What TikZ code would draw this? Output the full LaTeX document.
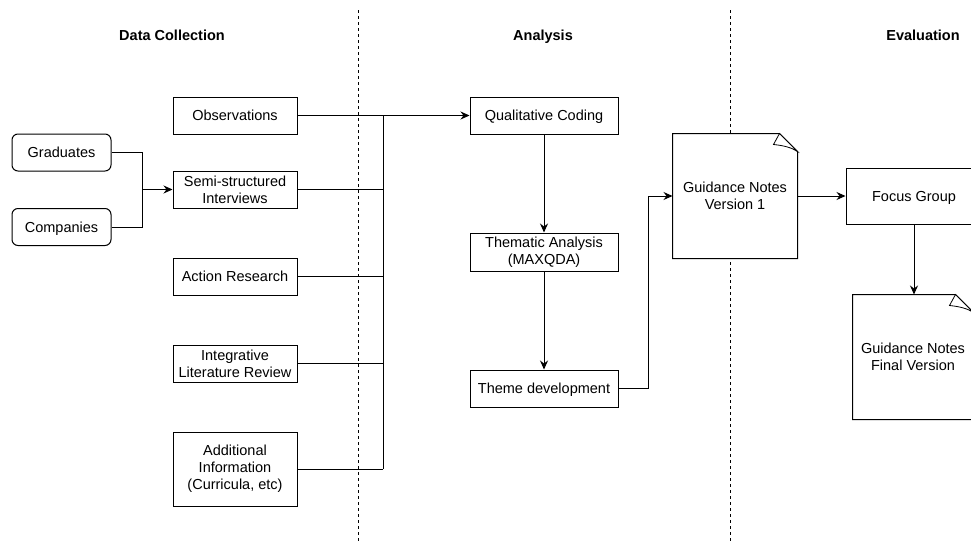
\documentclass[tikz,border=0pt]{standalone}
\usepackage{fontspec}
\setmainfont{Liberation Sans}
\usetikzlibrary{arrows.meta}
\begin{document}
\begin{tikzpicture}[x=1pt,y=-1pt,
  font=\fontsize{14.5}{17}\selectfont,
  line width=1pt,
  box/.style={draw, fill=white, rectangle, inner sep=0pt, align=center},
  sl/.style={text height=11.5pt, text depth=1.5pt},
  doc/.style={rectangle, inner sep=0pt, align=center},
  doctext/.style={inner sep=0pt, align=center},
  rbox/.style={box, rounded corners=6pt},
  title/.style={font=\fontsize{14.5}{17}\selectfont\bfseries, anchor=base},
  sep/.style={line width=0.9pt, dash pattern=on 3pt off 3pt},
  arr/.style={-{Stealth[length=9pt,width=8pt,inset=3pt]}}]
\useasboundingbox (0,0) rectangle (971,541);
\clip (0,0) rectangle (971,541);

% separators
\draw[sep] (358,10) -- (358,541);
\draw[sep] (730,10) -- (730,541);

% titles
\node[title] (t1) at (172,40) {Data Collection};
\node[title] (t2) at (543,40) {Analysis};
\node[title] (t3) at (923,40) {Evaluation};

% data collection
\node[rbox, sl, minimum width=99, minimum height=37] (grad) at (61.5,152.5) {Graduates};
\node[rbox, sl, minimum width=99, minimum height=37] (comp) at (61.5,227) {Companies};
\node[box, sl, minimum width=124, minimum height=37] (obs) at (235,115.5) {Observations};
\node[box, minimum width=124, minimum height=37] (semi) at (235,189.5) {Semi-structured\\Interviews};
\node[box, sl, minimum width=124, minimum height=37] (act) at (235,276.5) {Action Research};
\node[box, minimum width=124, minimum height=37] (integ) at (235,363.5) {Integrative\\Literature Review};
\node[box, minimum width=124, minimum height=74] (add) at (235,469) {Additional\\Information\\(Curricula, etc)};

% analysis
\node[box, sl, minimum width=148, minimum height=37] (qc) at (544,115.5) {Qualitative Coding};
\node[box, minimum width=148, minimum height=38] (them) at (544,252) {Thematic Analysis\\(MAXQDA)};
\node[box, sl, minimum width=148, minimum height=37] (theme) at (544,388.5) {Theme development};

% evaluation
\node[doc, minimum width=124, minimum height=124] (gn1) at (735,196) {};
\draw[fill=white] (gn1.north west) -- ([xshift=-18pt]gn1.north east) -- ([yshift=-18pt]gn1.north east)
  -- (gn1.south east) -- (gn1.south west) -- cycle;
\draw[fill=white, line width=0.8pt] ([xshift=-18pt]gn1.north east) -- ([xshift=-24pt,yshift=-11pt]gn1.north east)
  .. controls ([xshift=-14pt,yshift=-12pt]gn1.north east) and ([xshift=-6pt,yshift=-14pt]gn1.north east) .. ([yshift=-18pt]gn1.north east) -- cycle;
\node[doctext] (gn1t) at (gn1.center) {Guidance Notes\\Version 1};

\node[box, sl, minimum width=136, minimum height=56] (fg) at (914,196) {Focus Group};

\node[doc, minimum width=120, minimum height=124] (gnf) at (913,357) {};
\draw[fill=white] (gnf.north west) -- ([xshift=-18pt]gnf.north east) -- ([yshift=-18pt]gnf.north east)
  -- (gnf.south east) -- (gnf.south west) -- cycle;
\draw[fill=white, line width=0.8pt] ([xshift=-18pt]gnf.north east) -- ([xshift=-24pt,yshift=-11pt]gnf.north east)
  .. controls ([xshift=-14pt,yshift=-12pt]gnf.north east) and ([xshift=-6pt,yshift=-14pt]gnf.north east) .. ([yshift=-18pt]gnf.north east) -- cycle;
\node[doctext] (gnft) at (gnf.center) {Guidance Notes\\Final Version};

% connectors
\coordinate (j1) at (142,189.5);
\draw (grad.east) -| (j1);
\draw (comp.east) -| (j1);
\draw[arr] (j1) -- (semi.west);

\coordinate (bt) at (383,115.5);
\coordinate (bb) at (383,469);
\draw (obs.east) -- (bt);
\draw (bt) -- (bb);
\draw (semi.east) -- (semi.east -| bt);
\draw (act.east) -- (act.east -| bt);
\draw (integ.east) -- (integ.east -| bt);
\draw (add.east) -- (bb);
\draw[arr] (bt) -- (qc.west);

\draw[arr] (qc.south) -- (them.north);
\draw[arr] (them.south) -- (theme.north);

\coordinate (k1) at (648,388.5);
\draw[arr] (theme.east) -- (k1) |- (gn1.west);
\draw[arr] (gn1.east) -- (fg.west);
\draw[arr] (fg.south) -- (fg.south |- gnf.north);
\end{tikzpicture}
\end{document}
